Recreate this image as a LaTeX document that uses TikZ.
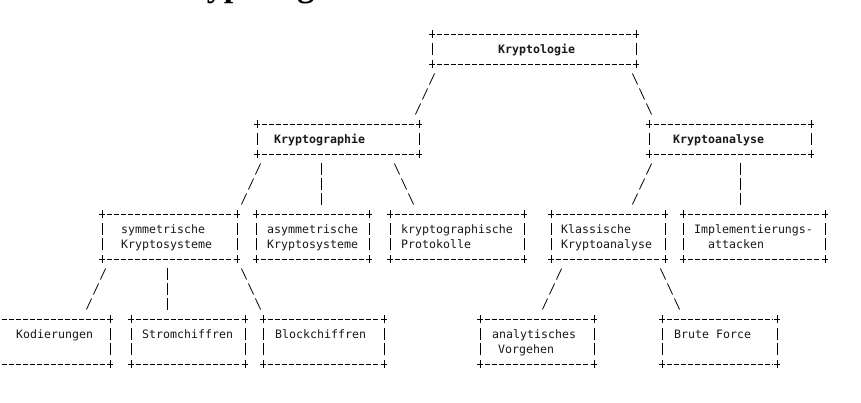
\documentclass[tikz,border=0pt]{standalone}
\usepackage{fontspec}
\setmonofont{DejaVu Sans Mono}
\newfontfamily\headfont{Liberation Serif}
\usetikzlibrary{calc}
\tikzset{
  boxframe/.style={rectangle, draw=none, inner sep=0pt, outer sep=0pt},
  hdash/.style={line width=0.8pt, dash pattern=on 5pt off 2pt},
  plusmark/.style={line width=0.8pt},
  vbar/.style={line width=0.8pt},
  txt/.style={font=\ttfamily\fontsize{11.6}{15}\selectfont, inner sep=0pt, anchor=base west, text=black!90},
  btxt/.style={txt, font=\ttfamily\bfseries\fontsize{11.6}{15}\selectfont},
  slashline/.style={line width=0.8pt, dash pattern=on 12.1pt off 4.45pt, shorten <=10.5pt, shorten >=10.5pt},
  barline/.style={line width=0.8pt, dash pattern=on 12pt off 3pt, shorten <=9pt, shorten >=9pt},
  headst/.style={font=\headfont\bfseries\fontsize{34}{40}\selectfont, inner sep=0pt, anchor=base west}
}
\newcommand\asciibox[5]{%
  \node[boxframe, minimum width={(#3)-(#2)}, minimum height={15*((#5)+1)}, anchor=north west] (#1) at (#2,#4) {};
  \draw[hdash] ([xshift=4.5pt]#1.north west) -- ([xshift=-4.5pt]#1.north east);
  \draw[hdash] ([xshift=4.5pt]#1.south west) -- ([xshift=-4.5pt]#1.south east);
  \foreach \cc in {north west, north east, south west, south east}{
    \draw[plusmark] ([xshift=-3.2pt]#1.\cc) -- ([xshift=3.2pt]#1.\cc)
                    ([yshift=-3.6pt]#1.\cc) -- ([yshift=3.6pt]#1.\cc);
  }
  \foreach \ii in {1,...,#5}{
    \draw[vbar] ($(#1.north west)+(0,{15*\ii-6})$) -- ++(0,12);
    \draw[vbar] ($(#1.north east)+(0,{15*\ii-6})$) -- ++(0,12);
  }
}
\begin{document}
\begin{tikzpicture}[x=1pt, y=-1pt]
\useasboundingbox (0,0) rectangle (861,403);
\clip (0,0) rectangle (861,403);
\fill[white] (0,0) rectangle (861,403);

\node[headst] (title) at (165,-3) {Kryptologie};

% boxes
\asciibox{kl}{432}{636}{34}{1}
\asciibox{kg}{257}{419}{124}{1}
\asciibox{ka}{649}{811}{124}{1}
\asciibox{sym}{102}{237}{214}{2}
\asciibox{asym}{256}{369}{214}{2}
\asciibox{prot}{390}{524}{214}{2}
\asciibox{klass}{551}{665}{214}{2}
\asciibox{impl}{683}{825}{214}{2}
\asciibox{kod}{-10}{110}{319}{2}
\asciibox{strom}{131}{245}{319}{2}
\asciibox{block}{263}{384}{319}{2}
\asciibox{anal}{480}{594}{319}{2}
\asciibox{brute}{662}{777}{319}{2}

% texts
\node[btxt] (t-kl) at (498,53.5) {Kryptologie};
\node[btxt] (t-kg) at (274,143.5) {Kryptographie};
\node[btxt] (t-ka) at (673,143.5) {Kryptoanalyse};
\node[txt] (t-sym1) at (121,233.5) {symmetrische};
\node[txt] (t-sym2) at (121,248.5) {Kryptosysteme};
\node[txt] (t-asym1) at (267,233.5) {asymmetrische};
\node[txt] (t-asym2) at (267,248.5) {Kryptosysteme};
\node[txt] (t-prot1) at (401,233.5) {kryptographische};
\node[txt] (t-prot2) at (401,248.5) {Protokolle};
\node[txt] (t-kla1) at (561,233.5) {Klassische};
\node[txt] (t-kla2) at (561,248.5) {Kryptoanalyse};
\node[txt] (t-imp1) at (694,233.5) {Implementierungs-};
\node[txt] (t-imp2) at (708,248.5) {attacken};
\node[txt] (t-kod) at (16,338.5) {Kodierungen};
\node[txt] (t-str) at (142,338.5) {Stromchiffren};
\node[txt] (t-blk) at (275,338.5) {Blockchiffren};
\node[txt] (t-an1) at (492,338.5) {analytisches};
\node[txt] (t-an2) at (498,353.5) {Vorgehen};
\node[txt] (t-bf) at (674,338.5) {Brute Force};

% connectors
\draw[slashline] ([xshift=7pt]kl.south west) -- ([xshift=-8pt]kg.north east);
\draw[slashline] ([xshift=-8pt]kl.south east) -- ([xshift=7pt]ka.north west);
\draw[slashline] ([xshift=8pt]kg.south west) -- ([xshift=0pt]sym.north east);
\draw[barline] ([xshift=64pt]kg.south west) -- ([xshift=65pt]asym.north west);
\draw[slashline] ([xshift=-29pt]kg.south east) -- ([xshift=28pt]prot.north west);
\draw[slashline] ([xshift=7pt]ka.south west) -- ([xshift=77pt]klass.north west);
\draw[barline] ([xshift=91pt]ka.south west) -- ([xshift=57pt]impl.north west);
\draw[slashline] ([xshift=8pt]sym.south west) -- ([xshift=-28pt]kod.north east);
\draw[barline] ([xshift=65pt]sym.south west) -- ([xshift=36pt]strom.north west);
\draw[slashline] ([xshift=0pt]sym.south east) -- ([xshift=2pt]block.north west);
\draw[slashline] ([xshift=15pt]klass.south west) -- ([xshift=58pt]anal.north west);
\draw[slashline] ([xshift=-9pt]klass.south east) -- ([xshift=22pt]brute.north west);
\end{tikzpicture}
\end{document}
